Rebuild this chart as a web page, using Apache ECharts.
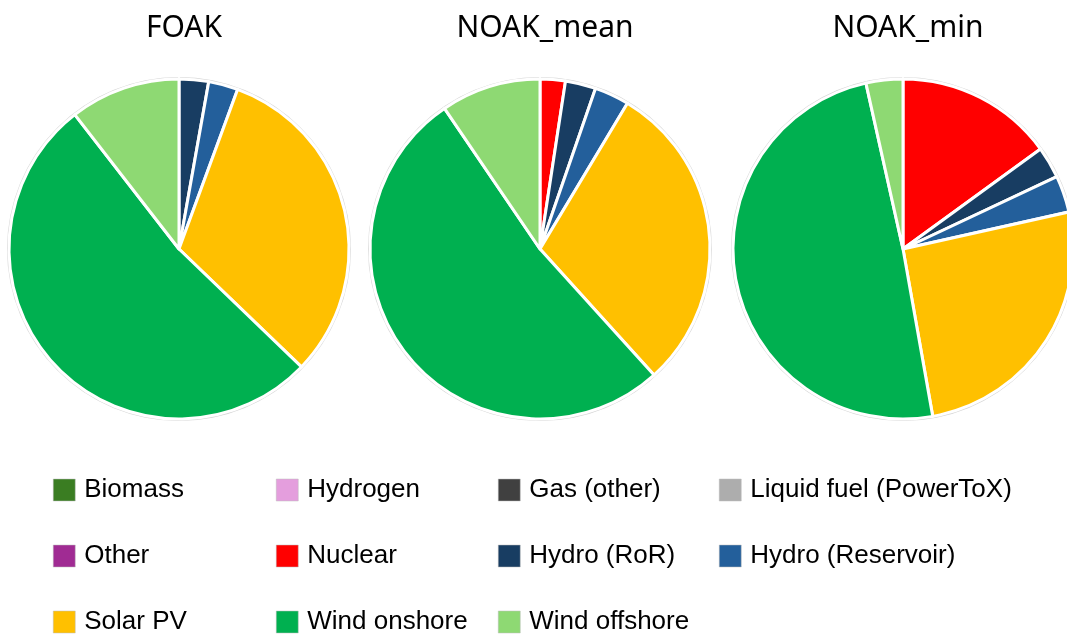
<!DOCTYPE html>
<html>
<head>
<meta charset="utf-8">
<script src="https://cdn.jsdelivr.net/npm/echarts@6/dist/echarts.min.js"></script>
<style>
  html, body { margin: 0; padding: 0; background: #fff; }
  #chart { width: 1067px; height: 635px; }
</style>
</head>
<body>
<div id="chart"></div>
<script>
// 技术类别（按饼图顺时针顺序）
const categories = ['Biomass', 'Hydrogen', 'Gas (other)', 'Liquid fuel (PowerToX)', 'Other',
  'Nuclear', 'Hydro (RoR)', 'Hydro (Reservoir)', 'Solar PV', 'Wind onshore', 'Wind offshore'];
const colors = ['#3a7d22', '#e49edd', '#404040', '#adadad', '#a02b93',
  '#ff0000', '#183d62', '#235f9b', '#ffc000', '#00b050', '#8ed973'];

// 各情景份额（%）
const scenarios = ['FOAK', 'NOAK_mean', 'NOAK_min'];
const foak = [0, 0, 0, 0, 0, 0, 2.8, 2.8, 31.6, 52.3, 10.5];
const noakMean = [0, 0, 0, 0, 0, 2.4, 2.9, 3.3, 29.7, 52.2, 9.5];
const noakMin = [0, 0, 0, 0, 0, 15.0, 3.0, 3.5, 25.7, 49.3, 3.5];

const chart = echarts.init(document.getElementById('chart'));

const centers = [179, 540, 903];
const valueSets = [foak, noakMean, noakMin];

const series = [];
valueSets.forEach((vals, i) => {
  // 外圈浅灰描边
  series.push({
    type: 'pie',
    silent: true,
    center: [centers[i], 249],
    radius: [170, 172],
    label: { show: false },
    itemStyle: { color: '#d6d6d6' },
    data: [{ value: 1, name: '' }],
    z: 1
  });
  series.push({
    name: scenarios[i],
    type: 'pie',
    center: [centers[i], 249],
    radius: [0, 170],
    startAngle: 90,
    clockwise: true,
    label: { show: false },
    labelLine: { show: false },
    itemStyle: { borderColor: '#fff', borderWidth: 3 },
    data: categories.map((c, k) => ({ name: c, value: vals[k], itemStyle: { color: colors[k] } })),
    z: 2
  });
});

// 图例按列排布
const legendCols = [
  ['Biomass', 'Other', 'Solar PV'],
  ['Hydrogen', 'Nuclear', 'Wind onshore'],
  ['Gas (other)', 'Hydro (RoR)', 'Wind offshore'],
  ['Liquid fuel (PowerToX)', 'Hydro (Reservoir)']
];
const legendLeft = [53, 276, 498, 719];

const option = {
  backgroundColor: '#fff',
  animation: false,
  title: scenarios.map((s, i) => ({
    text: s,
    left: centers[i],
    top: 8,
    textAlign: 'center',
    textStyle: { fontFamily: 'Noto Sans', fontWeight: 'normal', fontSize: 30, color: '#000' }
  })),
  legend: legendCols.map((col, i) => ({
    orient: 'vertical',
    left: legendLeft[i],
    top: 477,
    height: 200,
    padding: 0,
    itemWidth: 22,
    itemHeight: 22,
    itemGap: 40,
    icon: 'rect',
    selectedMode: false,
    data: col,
    textStyle: { fontFamily: 'Liberation Sans', fontSize: 26, color: '#000', lineHeight: 22, padding: [0, 0, 0, 4] },
    itemStyle: { borderColor: '#bdbdbd', borderWidth: 0.5 }
  })),
  series: series
};

chart.setOption(option);
</script>
</body>
</html>
